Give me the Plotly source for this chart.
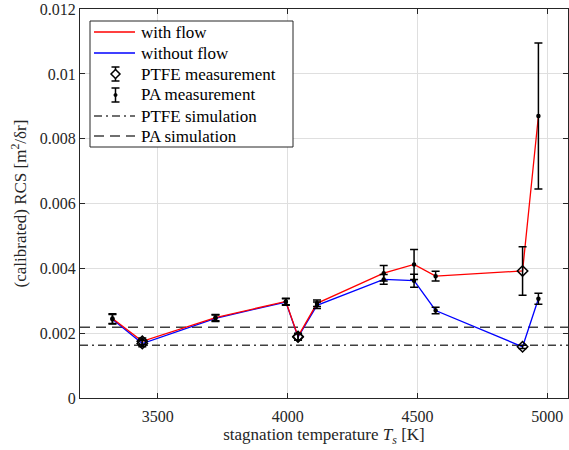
import plotly.graph_objects as go

# Stagnation temperature of each run [K]
temperature = [3325, 3440, 3722, 3993, 4040, 4113, 4370, 4487, 4570, 4905, 4966]
# Calibrated RCS with and without flow [m^2/dr]
rcs_with_flow = [0.00245, 0.00175, 0.00248, 0.00298, 0.00190, 0.00292, 0.00385, 0.00412, 0.00376, 0.00392, 0.00870]
rcs_without_flow = [0.00243, 0.00168, 0.00246, 0.00296, 0.00188, 0.00286, 0.00366, 0.00362, 0.00270, 0.00158, 0.00306]
err_with_flow = [0.00015, 0.00010, 0.00010, 0.00010, 0.00010, 0.00010, 0.00024, 0.00046, 0.00015, 0.00075, 0.00225]
err_without_flow = [0.00015, 0.00010, 0.00010, 0.00010, 0.00010, 0.00010, 0.00015, 0.00020, 0.00010, 0.00005, 0.00017]
# Target material of each run
material = ["PA", "PTFE", "PA", "PA", "PTFE", "PA", "PA", "PA", "PA", "PTFE", "PA"]

# Simulated RCS levels
sim_ptfe = 0.00163
sim_pa = 0.00218

x_range = [3200, 5080]
y_range = [0, 0.012]
x_ticks = [3500, 4000, 4500, 5000]
y_ticks = [0, 0.002, 0.004, 0.006, 0.008, 0.01, 0.012]
y_tick_text = ["0", "0.002", "0.004", "0.006", "0.008", "0.01", "0.012"]

FONT = "'Liberation Serif', 'Times New Roman', 'DejaVu Serif', serif"
INK = "#262626"
SIM_COLOR = "#404040"

fig = go.Figure()

# simulation levels
fig.add_trace(go.Scatter(x=x_range, y=[sim_ptfe, sim_ptfe], mode="lines",
                         line=dict(color=SIM_COLOR, width=1.5, dash="8px,4px,2px,4px"),
                         showlegend=False, hoverinfo="skip"))
fig.add_trace(go.Scatter(x=x_range, y=[sim_pa, sim_pa], mode="lines",
                         line=dict(color=SIM_COLOR, width=1.5, dash="10px,6px"),
                         showlegend=False, hoverinfo="skip"))

# measured curves
fig.add_trace(go.Scatter(x=temperature, y=rcs_without_flow, mode="lines",
                         line=dict(color="#0000ff", width=1.3), showlegend=False))
fig.add_trace(go.Scatter(x=temperature, y=rcs_with_flow, mode="lines",
                         line=dict(color="#ff0000", width=1.3), showlegend=False))

# measurement points with error bars, split by material
for mat, symbol, size in [("PA", "circle", 3), ("PTFE", "diamond-open", 8)]:
    idx = [i for i, m in enumerate(material) if m == mat]
    for ys, es in [(rcs_with_flow, err_with_flow), (rcs_without_flow, err_without_flow)]:
        fig.add_trace(go.Scatter(
            x=[temperature[i] for i in idx],
            y=[ys[i] for i in idx],
            mode="markers",
            marker=dict(symbol=symbol, size=size, color="black",
                        line=dict(color="black", width=1.5)),
            error_y=dict(type="data", array=[es[i] for i in idx], visible=True,
                         color="black", thickness=1.5, width=4),
            showlegend=False))

# ---- legend box drawn in paper coordinates ----
L, R, T, B = 80, 568, 9, 398


def px(x):
    return (x - L) / (R - L)


def py(y):
    return (B - y) / (B - T)


shapes = [dict(type="rect", xref="paper", yref="paper",
               x0=px(90), x1=px(293), y0=py(147), y1=py(21),
               line=dict(color=INK, width=1), fillcolor="white", layer="above")]
annotations = []
rows = [
    ("with flow", 32, "line", dict(color="#ff0000", width=1.3)),
    ("without flow", 53, "line", dict(color="#0000ff", width=1.3)),
    ("PTFE measurement", 74, "ptfe", None),
    ("PA measurement", 95, "pa", None),
    ("PTFE simulation", 116, "line", dict(color=SIM_COLOR, width=1.5, dash="8px,4px,2px,4px")),
    ("PA simulation", 136, "line", dict(color=SIM_COLOR, width=1.5, dash="10px,6px")),
]
for label, yc, kind, ln in rows:
    if kind == "line":
        shapes.append(dict(type="line", xref="paper", yref="paper",
                           x0=px(94), x1=px(135), y0=py(yc), y1=py(yc),
                           line=ln, layer="above"))
    else:
        xc = 115.5
        for seg in [(xc, yc - 7, xc, yc + 7), (xc - 4, yc - 7, xc + 4, yc - 7),
                    (xc - 4, yc + 7, xc + 4, yc + 7)]:
            shapes.append(dict(type="line", xref="paper", yref="paper",
                               x0=px(seg[0]), y0=py(seg[1]), x1=px(seg[2]), y1=py(seg[3]),
                               line=dict(color="black", width=1.5), layer="above"))
        if kind == "ptfe":
            d = 4.5
            path = (f"M {px(xc)},{py(yc - d)} L {px(xc + d)},{py(yc)} "
                    f"L {px(xc)},{py(yc + d)} L {px(xc - d)},{py(yc)} Z")
            shapes.append(dict(type="path", xref="paper", yref="paper", path=path,
                               line=dict(color="black", width=1.5), fillcolor="white",
                               layer="above"))
        else:
            shapes.append(dict(type="circle", xref="paper", yref="paper",
                               x0=px(xc - 1.5), x1=px(xc + 1.5), y0=py(yc + 1.5), y1=py(yc - 1.5),
                               line=dict(color="black", width=1), fillcolor="black",
                               layer="above"))
    annotations.append(dict(xref="paper", yref="paper", x=px(139), y=py(yc),
                            xanchor="left", yanchor="middle", showarrow=False,
                            text=label, font=dict(family=FONT, size=17, color="black")))

axis_common = dict(showline=True, linecolor=INK, linewidth=1, mirror="ticks",
                   ticks="inside", ticklen=5, tickcolor=INK, tickwidth=1,
                   showgrid=True, gridcolor="#dfdfdf", gridwidth=1, zeroline=False,
                   ticklabeloverflow="allow",
                   tickfont=dict(family=FONT, size=16, color=INK))

fig.update_layout(
    width=569, height=450,
    margin=dict(l=L, r=569 - R, t=T, b=450 - B),
    paper_bgcolor="white", plot_bgcolor="white",
    showlegend=False,
    font=dict(family=FONT),
    xaxis=dict(range=x_range, tickvals=x_ticks, ticklabelstandoff=4, **axis_common,
               title=dict(text="stagnation temperature <i>T<sub>s</sub></i> [K]",
                          font=dict(family=FONT, size=17, color=INK), standoff=3)),
    yaxis=dict(range=[y_range[0], y_range[1] * 1.0002], tickvals=y_ticks,
               ticktext=y_tick_text, **axis_common,
               title=dict(text="(calibrated) RCS [m<sup>2</sup>/δr]",
                          font=dict(family=FONT, size=17, color=INK), standoff=8)),
    shapes=shapes,
    annotations=annotations,
)

fig.write_html("out.html")
